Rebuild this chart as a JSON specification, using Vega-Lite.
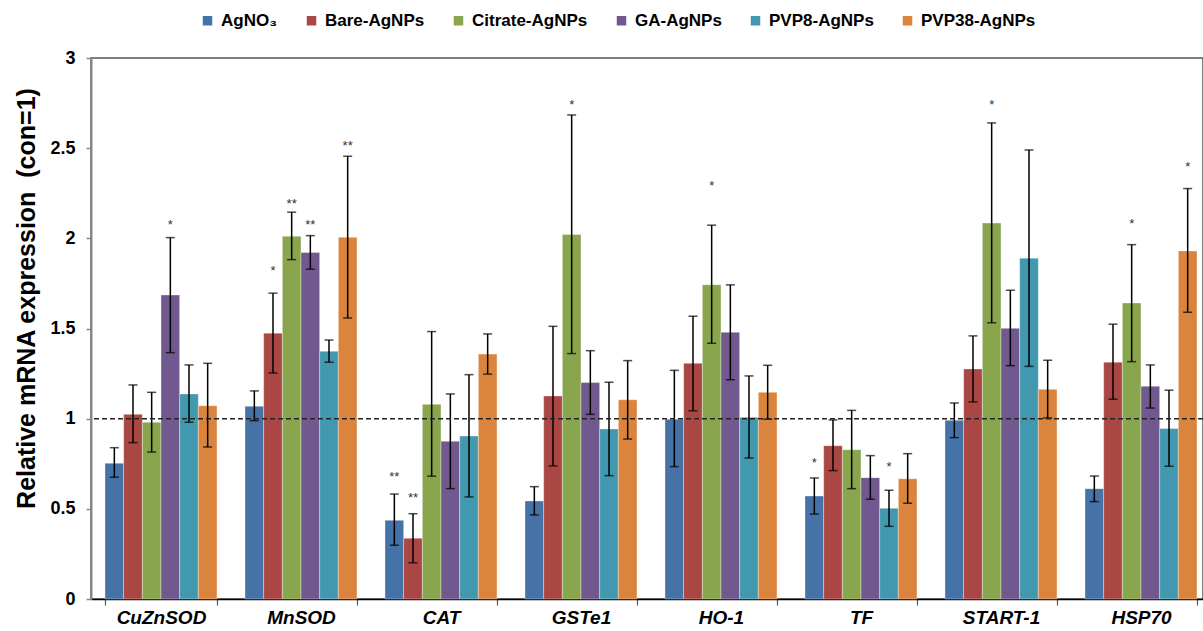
{
  "$schema": "https://vega.github.io/schema/vega-lite/v6.json",
  "width": 1112,
  "height": 541,
  "autosize": {"type": "none"},
  "padding": {"left": 91, "top": 58, "right": 0, "bottom": 32},
  "background": "white",
  "config": {"font": "Liberation Sans", "view": {"stroke": "#555", "strokeWidth": 1.5}},
  "datasets": {
    "rows": [
      {"gene": "CuZnSOD", "series": "AgNO₃", "value": 0.753, "lo": 0.675, "hi": 0.839, "star": "", "starY": null},
      {"gene": "CuZnSOD", "series": "Bare-AgNPs", "value": 1.024, "lo": 0.867, "hi": 1.187, "star": "", "starY": null},
      {"gene": "CuZnSOD", "series": "Citrate-AgNPs", "value": 0.98, "lo": 0.815, "hi": 1.146, "star": "", "starY": null},
      {"gene": "CuZnSOD", "series": "GA-AgNPs", "value": 1.686, "lo": 1.366, "hi": 2.004, "star": "*", "starY": 2.093},
      {"gene": "CuZnSOD", "series": "PVP8-AgNPs", "value": 1.137, "lo": 0.98, "hi": 1.298, "star": "", "starY": null},
      {"gene": "CuZnSOD", "series": "PVP38-AgNPs", "value": 1.072, "lo": 0.843, "hi": 1.307, "star": "", "starY": null},
      {"gene": "MnSOD", "series": "AgNO₃", "value": 1.069, "lo": 0.989, "hi": 1.154, "star": "", "starY": null},
      {"gene": "MnSOD", "series": "Bare-AgNPs", "value": 1.474, "lo": 1.253, "hi": 1.696, "star": "*", "starY": 1.836},
      {"gene": "MnSOD", "series": "Citrate-AgNPs", "value": 2.012, "lo": 1.882, "hi": 2.145, "star": "**", "starY": 2.206},
      {"gene": "MnSOD", "series": "GA-AgNPs", "value": 1.921, "lo": 1.829, "hi": 2.015, "star": "**", "starY": 2.093},
      {"gene": "MnSOD", "series": "PVP8-AgNPs", "value": 1.374, "lo": 1.313, "hi": 1.436, "star": "", "starY": null},
      {"gene": "MnSOD", "series": "PVP38-AgNPs", "value": 2.006, "lo": 1.558, "hi": 2.455, "star": "**", "starY": 2.527},
      {"gene": "CAT", "series": "AgNO₃", "value": 0.436, "lo": 0.298, "hi": 0.582, "star": "**", "starY": 0.692},
      {"gene": "CAT", "series": "Bare-AgNPs", "value": 0.337, "lo": 0.201, "hi": 0.473, "star": "**", "starY": 0.575},
      {"gene": "CAT", "series": "Citrate-AgNPs", "value": 1.08, "lo": 0.681, "hi": 1.483, "star": "", "starY": null},
      {"gene": "CAT", "series": "GA-AgNPs", "value": 0.875, "lo": 0.612, "hi": 1.137, "star": "", "starY": null},
      {"gene": "CAT", "series": "PVP8-AgNPs", "value": 0.904, "lo": 0.566, "hi": 1.244, "star": "", "starY": null},
      {"gene": "CAT", "series": "PVP38-AgNPs", "value": 1.358, "lo": 1.247, "hi": 1.47, "star": "", "starY": null},
      {"gene": "GSTe1", "series": "AgNO₃", "value": 0.544, "lo": 0.466, "hi": 0.623, "star": "", "starY": null},
      {"gene": "GSTe1", "series": "Bare-AgNPs", "value": 1.126, "lo": 0.738, "hi": 1.512, "star": "", "starY": null},
      {"gene": "GSTe1", "series": "Citrate-AgNPs", "value": 2.021, "lo": 1.361, "hi": 2.684, "star": "*", "starY": 2.755},
      {"gene": "GSTe1", "series": "GA-AgNPs", "value": 1.2, "lo": 1.024, "hi": 1.377, "star": "", "starY": null},
      {"gene": "GSTe1", "series": "PVP8-AgNPs", "value": 0.943, "lo": 0.684, "hi": 1.202, "star": "", "starY": null},
      {"gene": "GSTe1", "series": "PVP38-AgNPs", "value": 1.105, "lo": 0.887, "hi": 1.322, "star": "", "starY": null},
      {"gene": "HO-1", "series": "AgNO₃", "value": 0.997, "lo": 0.734, "hi": 1.268, "star": "", "starY": null},
      {"gene": "HO-1", "series": "Bare-AgNPs", "value": 1.307, "lo": 1.044, "hi": 1.568, "star": "", "starY": null},
      {"gene": "HO-1", "series": "Citrate-AgNPs", "value": 1.743, "lo": 1.418, "hi": 2.073, "star": "*", "starY": 2.309},
      {"gene": "HO-1", "series": "GA-AgNPs", "value": 1.479, "lo": 1.216, "hi": 1.742, "star": "", "starY": null},
      {"gene": "HO-1", "series": "PVP8-AgNPs", "value": 1.008, "lo": 0.782, "hi": 1.237, "star": "", "starY": null},
      {"gene": "HO-1", "series": "PVP38-AgNPs", "value": 1.146, "lo": 0.997, "hi": 1.296, "star": "", "starY": null},
      {"gene": "TF", "series": "AgNO₃", "value": 0.571, "lo": 0.471, "hi": 0.671, "star": "*", "starY": 0.771},
      {"gene": "TF", "series": "Bare-AgNPs", "value": 0.85, "lo": 0.712, "hi": 0.993, "star": "", "starY": null},
      {"gene": "TF", "series": "Citrate-AgNPs", "value": 0.828, "lo": 0.612, "hi": 1.046, "star": "", "starY": null},
      {"gene": "TF", "series": "GA-AgNPs", "value": 0.673, "lo": 0.553, "hi": 0.795, "star": "", "starY": null},
      {"gene": "TF", "series": "PVP8-AgNPs", "value": 0.503, "lo": 0.403, "hi": 0.603, "star": "*", "starY": 0.749},
      {"gene": "TF", "series": "PVP38-AgNPs", "value": 0.667, "lo": 0.531, "hi": 0.806, "star": "", "starY": null},
      {"gene": "START-1", "series": "AgNO₃", "value": 0.991, "lo": 0.895, "hi": 1.087, "star": "", "starY": null},
      {"gene": "START-1", "series": "Bare-AgNPs", "value": 1.276, "lo": 1.093, "hi": 1.459, "star": "", "starY": null},
      {"gene": "START-1", "series": "Citrate-AgNPs", "value": 2.085, "lo": 1.532, "hi": 2.64, "star": "*", "starY": 2.755},
      {"gene": "START-1", "series": "GA-AgNPs", "value": 1.501, "lo": 1.294, "hi": 1.712, "star": "", "starY": null},
      {"gene": "START-1", "series": "PVP8-AgNPs", "value": 1.89, "lo": 1.29, "hi": 2.49, "star": "", "starY": null},
      {"gene": "START-1", "series": "PVP38-AgNPs", "value": 1.163, "lo": 1.004, "hi": 1.324, "star": "", "starY": null},
      {"gene": "HSP70", "series": "AgNO₃", "value": 0.612, "lo": 0.54, "hi": 0.682, "star": "", "starY": null},
      {"gene": "HSP70", "series": "Bare-AgNPs", "value": 1.313, "lo": 1.108, "hi": 1.524, "star": "", "starY": null},
      {"gene": "HSP70", "series": "Citrate-AgNPs", "value": 1.642, "lo": 1.316, "hi": 1.965, "star": "*", "starY": 2.095},
      {"gene": "HSP70", "series": "GA-AgNPs", "value": 1.18, "lo": 1.059, "hi": 1.298, "star": "", "starY": null},
      {"gene": "HSP70", "series": "PVP8-AgNPs", "value": 0.945, "lo": 0.736, "hi": 1.158, "star": "", "starY": null},
      {"gene": "HSP70", "series": "PVP38-AgNPs", "value": 1.93, "lo": 1.59, "hi": 2.276, "star": "*", "starY": 2.411}
    ]
  },
  "data": {"name": "rows"},
  "layer": [
    {
      "mark": {"type": "bar", "stroke": "white", "strokeWidth": 0.6, "strokeOpacity": 0.6},
      "encoding": {
        "x": {
          "field": "gene", "type": "nominal",
          "sort": ["CuZnSOD", "MnSOD", "CAT", "GSTe1", "HO-1", "TF", "START-1", "HSP70"],
          "scale": {"range": [0, 1120], "paddingInner": 0.2, "paddingOuter": 0.1},
          "axis": {
            "title": null, "labelAngle": 0, "labelFontSize": 19, "labelFontWeight": "bold",
            "labelFontStyle": "italic", "labelColor": "#000", "labelPadding": 3,
            "domainColor": "#000", "domainWidth": 1.5, "tickColor": "#555", "tickWidth": 1.2,
            "tickSize": 6, "tickBand": "extent"
          }
        },
        "xOffset": {
          "field": "series", "type": "nominal",
          "sort": ["AgNO₃", "Bare-AgNPs", "Citrate-AgNPs", "GA-AgNPs", "PVP8-AgNPs", "PVP38-AgNPs"],
          "scale": {"paddingInner": 0, "paddingOuter": 0}
        },
        "y": {
          "field": "value", "type": "quantitative",
          "scale": {"domain": [0, 3], "nice": false},
          "axis": {
            "title": "Relative mRNA expression\u00a0 (con=1)", "values": [0, 0.5, 1, 1.5, 2, 2.5, 3],
            "format": "~g",
            "grid": false, "domainColor": "#888", "domainWidth": 2, "tickColor": "#888",
            "tickWidth": 1.5, "tickSize": 5, "labelFontSize": 18, "labelFontWeight": "bold",
            "labelColor": "#000", "labelPadding": 11, "titleFontSize": 25, "titleFontWeight": "bold",
            "titleColor": "#000", "titleAngle": -90, "titleX": -65, "titleY": 240,
            "titleAlign": "center", "titleBaseline": "middle"
          }
        },
        "color": {
          "field": "series", "type": "nominal",
          "sort": ["AgNO₃", "Bare-AgNPs", "Citrate-AgNPs", "GA-AgNPs", "PVP8-AgNPs", "PVP38-AgNPs"],
          "scale": {
            "domain": ["AgNO₃", "Bare-AgNPs", "Citrate-AgNPs", "GA-AgNPs", "PVP8-AgNPs", "PVP38-AgNPs"],
            "range": ["#4572A7", "#AA4643", "#89A54E", "#71588F", "#4198AF", "#DB843D"]
          },
          "legend": {
            "orient": "none", "legendX": 108, "legendY": -46, "direction": "horizontal",
            "title": null, "symbolType": "square", "symbolSize": 90, "symbolStrokeWidth": 0,
            "labelFontSize": 17, "labelFontWeight": "bold", "labelColor": "#000",
            "columnPadding": 25, "labelOffset": 5
          }
        }
      }
    },
    {
      "mark": {"type": "rule", "color": "#000", "strokeWidth": 1.5},
      "encoding": {
        "x": {"field": "gene", "type": "nominal", "sort": ["CuZnSOD", "MnSOD", "CAT", "GSTe1", "HO-1", "TF", "START-1", "HSP70"]},
        "xOffset": {"field": "series", "type": "nominal", "sort": ["AgNO₃", "Bare-AgNPs", "Citrate-AgNPs", "GA-AgNPs", "PVP8-AgNPs", "PVP38-AgNPs"]},
        "y": {"field": "lo", "type": "quantitative"},
        "y2": {"field": "hi"}
      }
    },
    {
      "mark": {"type": "tick", "color": "#000", "thickness": 1.5, "size": 9},
      "encoding": {
        "x": {"field": "gene", "type": "nominal", "sort": ["CuZnSOD", "MnSOD", "CAT", "GSTe1", "HO-1", "TF", "START-1", "HSP70"]},
        "xOffset": {"field": "series", "type": "nominal", "sort": ["AgNO₃", "Bare-AgNPs", "Citrate-AgNPs", "GA-AgNPs", "PVP8-AgNPs", "PVP38-AgNPs"]},
        "y": {"field": "lo", "type": "quantitative"}
      }
    },
    {
      "mark": {"type": "tick", "color": "#000", "thickness": 1.5, "size": 9},
      "encoding": {
        "x": {"field": "gene", "type": "nominal", "sort": ["CuZnSOD", "MnSOD", "CAT", "GSTe1", "HO-1", "TF", "START-1", "HSP70"]},
        "xOffset": {"field": "series", "type": "nominal", "sort": ["AgNO₃", "Bare-AgNPs", "Citrate-AgNPs", "GA-AgNPs", "PVP8-AgNPs", "PVP38-AgNPs"]},
        "y": {"field": "hi", "type": "quantitative"}
      }
    },
    {
      "transform": [{"filter": "datum.starY != null"}],
      "mark": {"type": "text", "color": "#333", "fontSize": 13, "baseline": "alphabetic", "dy": 7},
      "encoding": {
        "x": {"field": "gene", "type": "nominal", "sort": ["CuZnSOD", "MnSOD", "CAT", "GSTe1", "HO-1", "TF", "START-1", "HSP70"]},
        "xOffset": {"field": "series", "type": "nominal", "sort": ["AgNO₃", "Bare-AgNPs", "Citrate-AgNPs", "GA-AgNPs", "PVP8-AgNPs", "PVP38-AgNPs"]},
        "y": {"field": "starY", "type": "quantitative"},
        "text": {"field": "star"}
      }
    },
    {
      "data": {"values": [{"ref": 1}]},
      "mark": {"type": "rule", "color": "#222", "strokeWidth": 1.5, "strokeDash": [5, 3]},
      "encoding": {"y": {"field": "ref", "type": "quantitative"}}
    }
  ]
}
